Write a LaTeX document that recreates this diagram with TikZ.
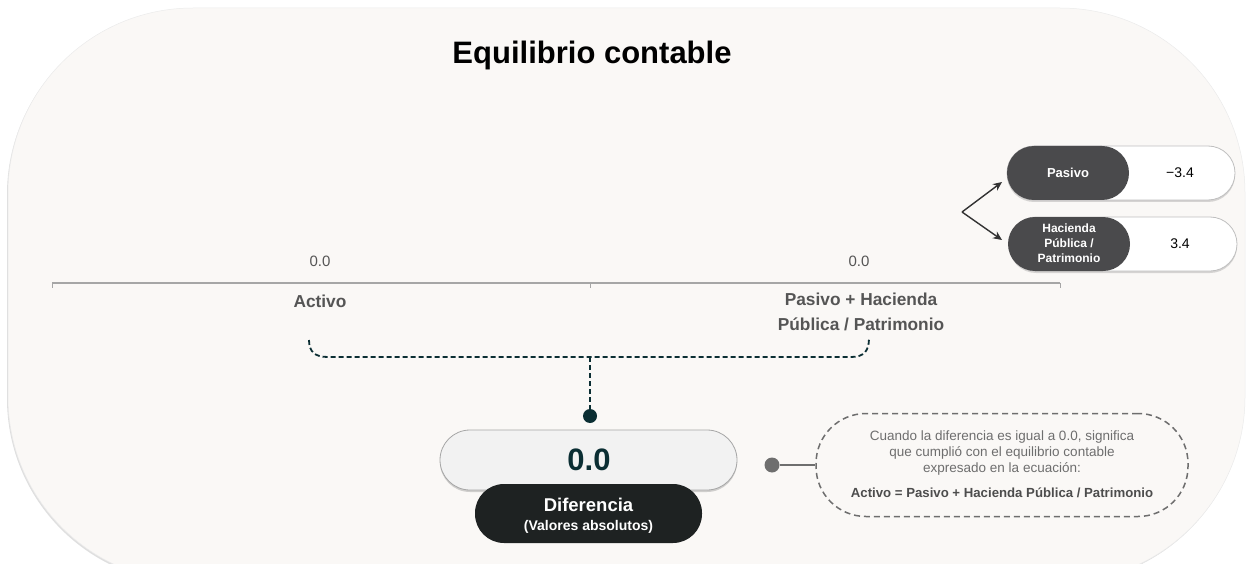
\documentclass[tikz,border=0pt]{standalone}
\usepackage{fontspec}
\setmainfont{Liberation Sans}
\usetikzlibrary{shadows,arrows.meta}
\definecolor{bgfill}{HTML}{FAF8F6}
\definecolor{teal}{HTML}{0B2E33}
\definecolor{darkpill}{HTML}{1E2222}
\definecolor{graypill}{HTML}{4A4A4C}
\definecolor{axisgray}{HTML}{A6A6A6}
\definecolor{labelgray}{HTML}{555555}
\definecolor{notegray}{HTML}{6E6E6E}
\tikzset{
  bgshape/.style={fill=bgfill, draw=black!8, line width=0.5pt, drop shadow={opacity=0.25, shadow xshift=-1pt, shadow yshift=-1.5pt}},
  axislbl/.style={text=labelgray, font=\fontsize{15}{18}\selectfont, anchor=center},
  catlbl/.style={text=labelgray, font=\bfseries\fontsize{17.3}{25}\selectfont, align=center},
  bracket/.style={draw=teal, line width=1.8pt, dash pattern=on 5pt off 3pt},
  valpill/.style={rounded corners=30pt, fill=white!95!black, draw=black!35, line width=0.8pt, minimum width=297pt, minimum height=60pt, drop shadow={opacity=0.35, shadow xshift=0pt, shadow yshift=-2pt}},
  difpill/.style={rounded corners=29pt, fill=darkpill, minimum width=227pt, minimum height=59pt, text=white, align=center},
  whitepill/.style={rounded corners=27pt, fill=white, draw=black!25, line width=0.8pt, minimum width=228pt, minimum height=54pt, drop shadow={opacity=0.3, shadow xshift=0pt, shadow yshift=-2pt}},
  greypill/.style={rounded corners=27pt, fill=graypill, minimum width=122pt, minimum height=54pt, text=white, align=center},
  notebox/.style={draw=notegray, line width=1.5pt, dash pattern=on 6pt off 4pt, rounded corners=50pt, minimum width=372pt, minimum height=103pt},
  arr/.style={draw=black!80, line width=1.4pt, -{Stealth[length=9pt,width=8pt]}},
}
\begin{document}
\begin{tikzpicture}[x=1pt,y=-1pt]
\useasboundingbox (0,0) rectangle (1252,564);
\begin{scope}
\clip (0,0) rectangle (1252,564);
\path[bgshape, rounded corners=185pt] (8,8) rectangle (1245,582);
\end{scope}

% title
\node[font=\bfseries\fontsize{31}{36}\selectfont] (title) at (592,55) {Equilibrio contable};

% axis
\coordinate (axL) at (52,283);
\coordinate (axR) at (1060,283);
\coordinate (axM) at (590,283);
\draw[axisgray, line width=1.5pt] (axL) -- (axR);
\draw[axisgray, line width=1pt] (axL) -- ++(0,5);
\draw[axisgray, line width=1pt] (axR) -- ++(0,5);
\draw[axisgray, line width=1pt] (axM) -- ++(0,5);

\node[axislbl] (v1) at (320,261) {0.0};
\node[axislbl] (v2) at (859,261) {0.0};
\node[catlbl] (activo) at (320,301) {Activo};
\node[catlbl] (pasivo) at (861,312) {Pasivo + Hacienda\\Pública / Patrimonio};

% bracket
\coordinate (bA) at (309,340);
\coordinate (bB) at (869,338);
\coordinate (bM) at (590,357);
\draw[bracket] (bA) .. controls (309,352) and (315,357) .. (328,357) -- (851,357) .. controls (864,357) and (869,351) .. (bB);
\node[circle, fill=teal, minimum size=14pt, inner sep=0pt] (dot) at (590,416) {};
\draw[bracket] (bM) -- (dot.north);

% value pills
\node[valpill] (val) at (588.5,460) {};
\node[text=teal, font=\bfseries\fontsize{31}{36}\selectfont] (valtxt) at (589,460) {0.0};
\node[difpill] (dif) at (588.5,513.5) {};
\node[text=white, font=\bfseries\fontsize{18.5}{20}\selectfont] (diftxt1) at (588.5,505) {Diferencia};
\node[text=white, font=\bfseries\fontsize{14}{15}\selectfont] (diftxt2) at (588.5,527) {(Valores absolutos)};

% note
\node[circle, fill=notegray, minimum size=15pt, inner sep=0pt] (gdot) at (772,465) {};
\node[notebox] (note) at (1002,465) {};
\draw[notegray, line width=1.5pt] (gdot) -- (note.west);
\node[text=notegray, align=center, font=\fontsize{13.5}{16}\selectfont] (notetxt) at (1002,453) {Cuando la diferencia es igual a 0.0, significa\\que cumplió con el equilibrio contable\\expresado en la ecuación:};
\node[text=notegray!70!black, font=\bfseries\fontsize{13.2}{15}\selectfont] (noteeq) at (1002,493) {Activo = Pasivo + Hacienda Pública / Patrimonio};

% right pills
\node[whitepill] (p1) at (1121,173) {};
\node[greypill] (p1g) at (1068,173) {};
\node[text=white, font=\bfseries\fontsize{13}{15}\selectfont] at (p1g) {Pasivo};
\node[font=\fontsize{14}{16}\selectfont] (p1v) at (1180,173) {−3.4};

\node[whitepill] (p2) at (1123,244) {};
\node[greypill] (p2g) at (1069,244) {};
\node[text=white, align=center, font=\bfseries\fontsize{12}{15}\selectfont] at (1069,243) {Hacienda\\Pública /\\Patrimonio};
\node[font=\fontsize{14}{16}\selectfont] (p2v) at (1180,244) {3.4};

\coordinate (fork) at (962,212);
\draw[arr] (fork) -- (1002,182);
\draw[arr] (fork) -- (1002,240);
\end{tikzpicture}
\end{document}
